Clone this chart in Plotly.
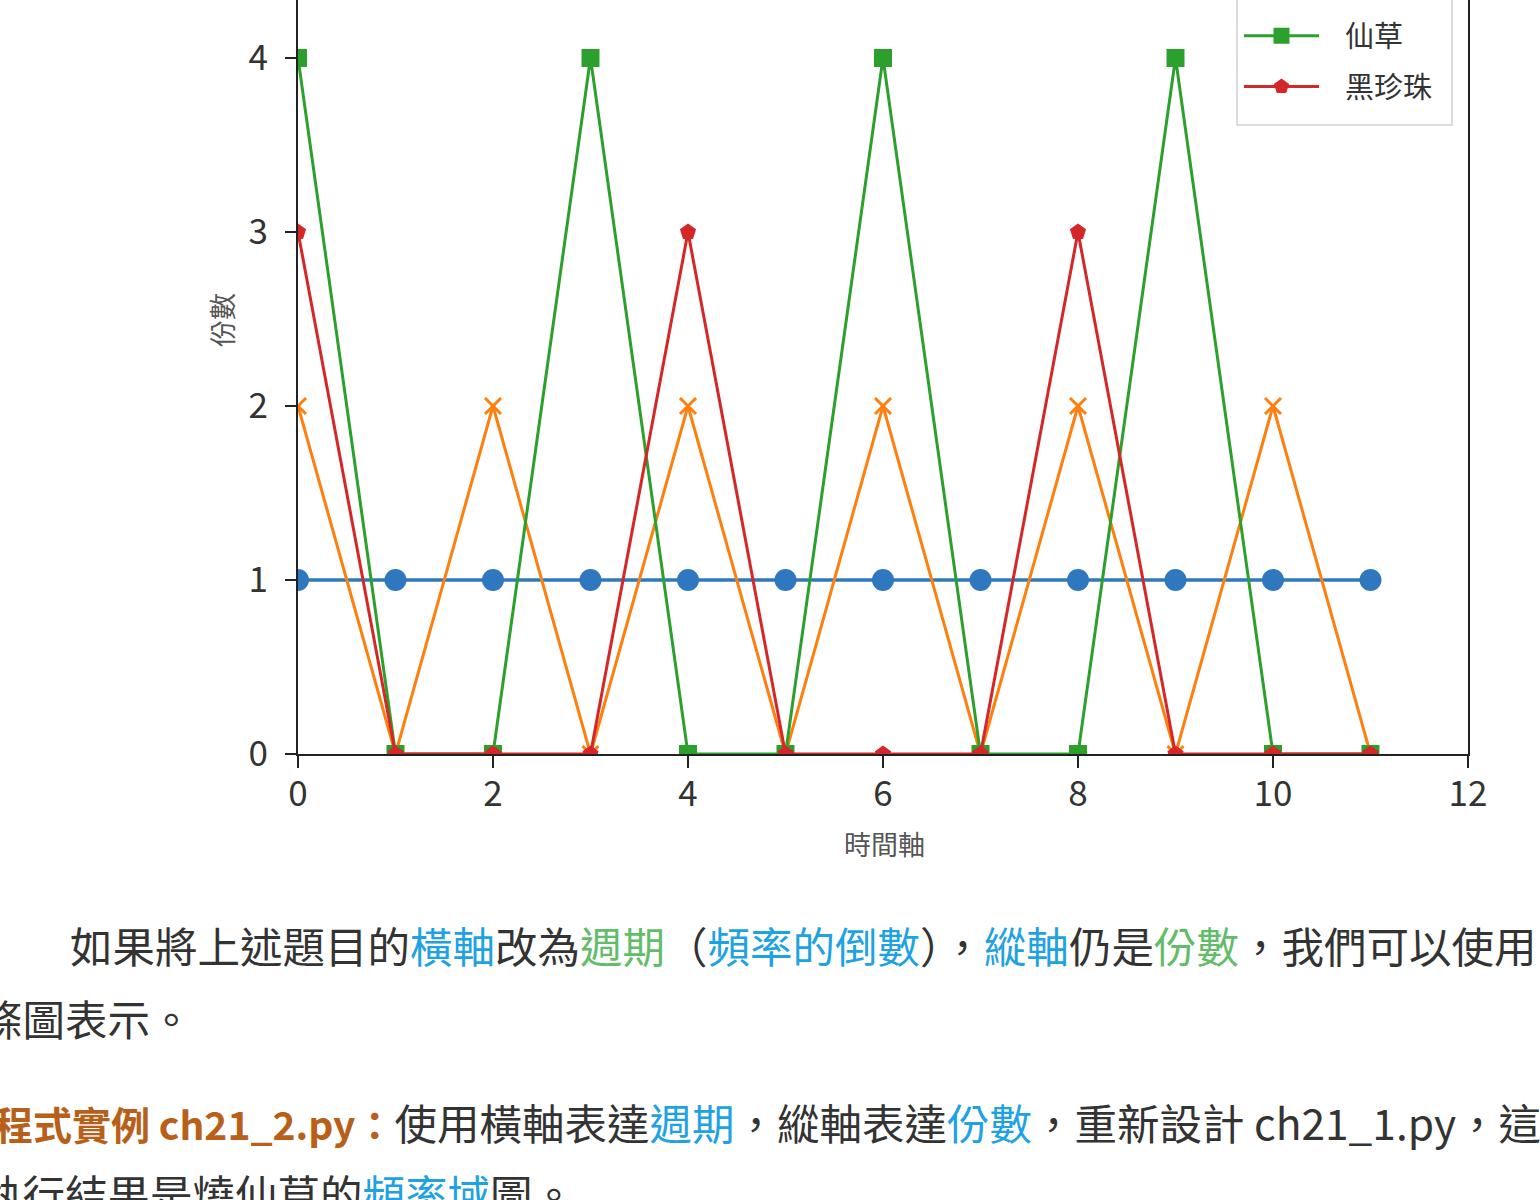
import plotly.graph_objects as go

# ---------------- data ----------------
time_axis = [0, 1, 2, 3, 4, 5, 6, 7, 8, 9, 10, 11]
series_names = ["珍珠", "紅豆", "仙草", "黑珍珠"]
pearl = [1, 1, 1, 1, 1, 1, 1, 1, 1, 1, 1, 1]
red_bean = [2, 0, 2, 0, 2, 0, 2, 0, 2, 0, 2, 0]
grass_jelly = [4, 0, 0, 4, 0, 0, 4, 0, 0, 4, 0, 0]
black_pearl = [3, 0, 0, 0, 3, 0, 0, 0, 3, 0, 0, 0]
x_ticks = [0, 2, 4, 6, 8, 10, 12]
y_ticks = [0, 1, 2, 3, 4]
x_title = "時間軸"
y_title = "份數"

# ---------------- styles ----------------
FONT = "Noto Sans CJK TC"
W, H = 1540, 1200
ML, MR, MT, MB = 298, 72, 0, 446
PW = W - ML - MR
PH = H - MT - MB

colors = ["#2f78bf", "#ff7f0e", "#2ca02c", "#d62728"]
symbols = ["circle", "x-thin", "square", "pentagon"]
msizes = [22, 16, 18, 17]
lwidths = [3.5, 3, 3, 3]
values = [pearl, red_bean, grass_jelly, black_pearl]

LEG_FONT = 29
fig = go.Figure()
for i, (name, vals) in enumerate(zip(series_names, values)):
    marker = dict(symbol=symbols[i], size=msizes[i], color=colors[i])
    if symbols[i] == "x-thin":
        marker["line"] = dict(color=colors[i], width=3)
    fig.add_trace(go.Scatter(
        x=time_axis, y=vals, name="\u2002\u00a0" + name, mode="lines+markers",
        line=dict(color=colors[i], width=lwidths[i]), marker=marker,
        legendgroup=name, cliponaxis=True,
    ))

def px_x(px):
    return (px - ML) / PW

def px_y(py):
    return (H - MB - py) / PH

TXT = "#333333"
BLUE = "#1ea2e4"
GREEN = "#62bd6a"
BROWN = "#b8601a"

def span(t, c, bold=False, size=None):
    st = f"color:{c}"
    if size:
        st += f";font-size:{size}px"
    s = f"<span style='{st}'>{t}</span>"
    return f"<b>{s}</b>" if bold else s

BODY = 42.5
lines = [
    (68, 944, span("如果將上述題目的", TXT) + span("橫軸", BLUE) + span("改為", TXT)
     + span("週期", GREEN) + span("（", TXT) + span("頻率的倒數", BLUE) + span("），", TXT)
     + span("縱軸", BLUE) + span("仍是", TXT) + span("份數", GREEN) + span("，我們可以使用", TXT)),
    (-22, 1017, span("條圖表示。", TXT)),
    (-8, 1121, span("程式實例 ch21_2.py：", BROWN, True, 39) + span("使用橫軸表達", TXT)
     + span("週期", BLUE) + span("，縱軸表達", TXT) + span("份數", BLUE)
     + span("，重新設計 ch21_1.py，這", TXT)),
    (-22, 1192, span("執行結果是燒仙草的", TXT) + span("頻率域", BLUE) + span("圖。", TXT)),
]
annotations = []
for lx, ly, txt in lines:
    annotations.append(dict(
        xref="paper", yref="paper", x=px_x(lx), y=px_y(ly),
        xanchor="left", yanchor="middle", text=txt, showarrow=False,
        font=dict(family=FONT, size=BODY, color=TXT), align="left",
    ))

# axis titles placed as annotations
annotations.append(dict(
    xref="paper", yref="paper", x=px_x(884), y=px_y(843),
    xanchor="center", yanchor="middle", text=x_title, showarrow=False,
    font=dict(family=FONT, size=27, color="#555555"),
))
annotations.append(dict(
    xref="paper", yref="paper", x=px_x(221), y=px_y(320),
    xanchor="center", yanchor="middle", text=y_title, showarrow=False, textangle=-90,
    font=dict(family=FONT, size=27, color="#555555"),
))

# legend frame (matplotlib-like box, top beyond the visible area)
shapes = [dict(
    type="rect", xref="paper", yref="paper", layer="above",
    x0=px_x(1237), x1=px_x(1452), y0=px_y(125), y1=px_y(-30),
    fillcolor="white", line=dict(color="#d0d0d0", width=1.5),
)]

fig.update_layout(
    width=W, height=H,
    margin=dict(l=ML, r=MR, t=MT, b=MB, autoexpand=False),
    paper_bgcolor="white", plot_bgcolor="white",
    font=dict(family=FONT, color=TXT),
    showlegend=True,
    legend=dict(
        x=px_x(1239), y=px_y(112), xanchor="left", yanchor="bottom",
        bgcolor="rgba(0,0,0,0)", borderwidth=0,
        font=dict(family=FONT, size=LEG_FONT, color=TXT),
        traceorder="grouped", tracegroupgap=10, itemwidth=75,
    ),
    xaxis=dict(
        range=[0, 12], tickvals=x_ticks, showgrid=False, zeroline=False,
        showline=True, linecolor="#222222", linewidth=2,
        ticks="outside", ticklen=12, tickwidth=2, tickcolor="#222222",
        ticklabelstandoff=-4,
        tickfont=dict(family=FONT, size=35, color=TXT),
    ),
    yaxis=dict(
        range=[0, PH / 174.0], tickvals=y_ticks, showgrid=False, zeroline=False,
        showline=True, mirror=True, linecolor="#222222", linewidth=2,
        ticks="outside", ticklen=11, tickwidth=2, tickcolor="#222222",
        ticklabelstandoff=10,
        tickfont=dict(family=FONT, size=35, color=TXT),
    ),
    annotations=annotations,
    shapes=shapes,
)

fig.write_html("out.html", config={"displayModeBar": False},
               post_script="document.body.style.margin='0';")
